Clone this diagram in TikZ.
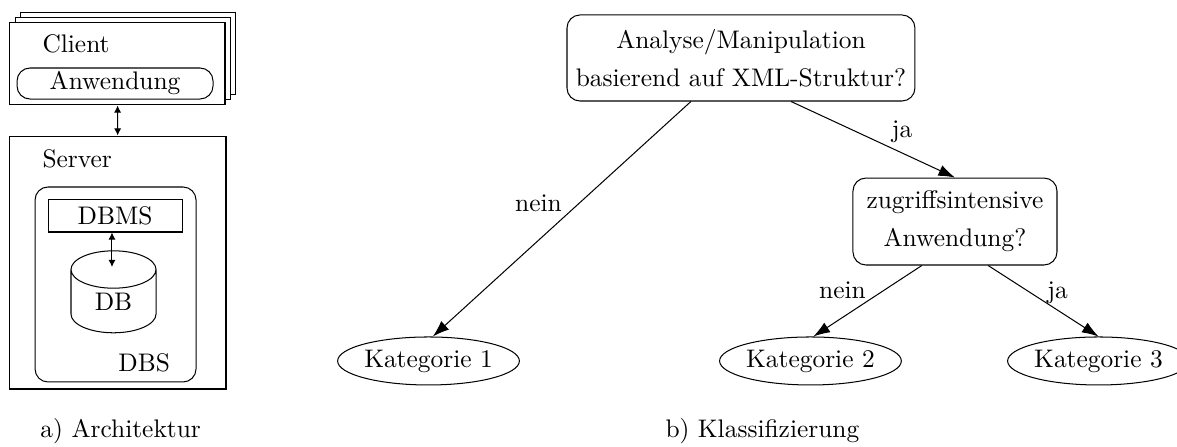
\documentclass[tikz,border=0pt]{standalone}
\usepackage{amsmath, amssymb}
\usepackage{tikz}
\usetikzlibrary{arrows.meta,shapes.geometric,shadows}

\begin{document}
\begin{tikzpicture}[
  kasten/.style={draw, fill=white, inner sep=0pt},
  rund/.style={draw, rounded corners=0.18cm, inner sep=0pt},
  frage/.style={draw, rounded corners=0.18cm, align=center, inner sep=0pt},
  kat/.style={draw, ellipse, inner sep=0pt, minimum width=2.2cm, minimum height=0.664cm},
  txt/.style={inner sep=0pt},
  pfeil/.style={{Latex[length=2.8pt,width=2.8pt]}-{Latex[length=2.8pt,width=2.8pt]}},
  kante/.style={-{Latex[length=6.5pt,width=4.5pt]}}
]
\useasboundingbox (0,0) rectangle (16.28,6.169);
\path (1.625,5.284) node[kasten, double copy shadow={shadow xshift=0.07cm, shadow yshift=0.07cm},
			minimum width=2.974cm, minimum height=1.134cm] (client) {}
		(0.581,5.436) node[txt, anchor=base west] (clienttxt) {Client}
		(1.591,5.014) node[rund, minimum width=2.711cm, minimum height=0.429cm] (anw) {Anwendung}
		(1.632,2.538) node[kasten, minimum width=2.988cm, minimum height=3.499cm] (server) {}
		(0.581,3.859) node[txt, anchor=base west] (servertxt) {Server}
		(1.598,2.234) node[rund, minimum width=2.227cm, minimum height=2.697cm] (dbs) {}
		(1.632,1.024) node[txt, anchor=base west] (dbstxt) {DBS}
		(1.591,3.188) node[kasten, minimum width=1.853cm, minimum height=0.456cm] (dbms) {DBMS}
		(1.570,2.0) node[draw, cylinder, shape border rotate=90, aspect=1, inner sep=0pt,
			minimum width=1.176cm, minimum height=1.134cm] (db) {DB}
		(1.549,2.476) coordinate (dbtop)
		(0.553,0.124) node[txt, anchor=base west] (capa) {a) Architektur}
		(10.249,5.367) node[frage, minimum width=4.813cm, minimum height=1.19cm] (frage)
			{Analyse/Manipulation\\[3pt]basierend auf XML-Struktur?}
		(13.209,3.105) node[frage, minimum width=2.822cm, minimum height=1.203cm] (zug)
			{zugriffsintensive\\[3pt]Anwendung?}
		(5.927,1.176) node[kat] (kat1) {Kategorie 1}
		(11.210,1.176) node[kat] (kat2) {Kategorie 2}
		(15.194,1.176) node[kat] (kat3) {Kategorie 3}
		(7.448,3.237) node[txt, anchor=base] (nein1) {nein}
		(12.476,4.274) node[txt, anchor=base] (ja1) {ja}
		(11.653,2.047) node[txt, anchor=base] (nein2) {nein}
		(14.627,2.047) node[txt, anchor=base] (ja2) {ja}
		(9.198,0.124) node[txt, anchor=base west] (capb) {b) Klassifizierung}
		;
\draw[pfeil] (node cs:name=client) -- (node cs:name=server);
\draw[pfeil] (dbtop |- dbms.south) -- (dbtop);

\draw[kante] (node cs:name=frage, angle=221) -- (node cs:name=kat1, angle=80);
\draw[kante] (node cs:name=frage, angle=319) -- (node cs:name=zug, anchor=north);
\draw[kante] (node cs:name=zug, angle=233) -- (node cs:name=kat2, angle=83);
\draw[kante] (node cs:name=zug, angle=307) -- (node cs:name=kat3, anchor=north);
\end{tikzpicture}
\end{document}
